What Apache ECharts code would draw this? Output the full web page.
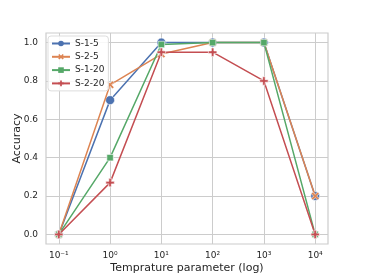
<!DOCTYPE html>
<html>
<head>
<meta charset="utf-8">
<script src="https://cdn.jsdelivr.net/npm/echarts@6/dist/echarts.min.js"></script>
<style>html,body{margin:0;padding:0;background:#fff;}#c{width:365px;height:274px;}</style>
</head>
<body>
<div id="c"></div>
<script>
const temperatures = [0.1, 1, 10, 100, 1000, 10000];
const s15 = [0, 0.70, 1.00, 1.00, 1.00, 0.20];
const s25 = [0, 0.78, 0.94, 1.00, 1.00, 0.20];
const s120 = [0, 0.40, 0.99, 1.00, 1.00, 0.00];
const s220 = [0, 0.27, 0.95, 0.95, 0.80, 0.00];
const seriesNames = ['S-1-5', 'S-2-5', 'S-1-20', 'S-2-20'];
const xTickExps = [-1, 0, 1, 2, 3, 4];
const yTicks = [0, 0.2, 0.4, 0.6, 0.8, 1.0];

const colors = ['#4C72B0', '#DD8452', '#55A868', '#C44E52'];
const plusPath = 'path://M3.5,0H6.5V3.5H10V6.5H6.5V10H3.5V6.5H0V3.5H3.5Z';
const xPath = 'path://M2,0L5,3L8,0L10,2L7,5L10,8L8,10L5,7L2,10L0,8L3,5L0,2Z';
const symbols = ['circle', xPath, 'rect', plusPath];
const sizes = [9, 8, 6.5, 8.5];
const allData = [s15, s25, s120, s220];

const sup = {'-':'⁻','0':'⁰','1':'¹','2':'²','3':'³','4':'⁴','5':'⁵','6':'⁶','7':'⁷','8':'⁸','9':'⁹'};
function toSup(n){return String(n).split('').map(c=>sup[c]).join('');}

const chart = echarts.init(document.getElementById('c'), null, {renderer:'canvas'});
chart.setOption({
  backgroundColor: '#fff',
  animation: false,
  color: colors,
  grid: {left: 46, right: 37, top: 33, bottom: 30, containLabel: false, outerBoundsMode: 'none',
    show: true, borderColor: '#cccccc', borderWidth: 1.2, backgroundColor: '#fff'},
  legend: {
    left: 48, top: 36, orient: 'vertical',
    itemWidth: 18, itemHeight: 7, itemGap: 4.3,
    padding: [3, 4, 3, 3],
    borderColor: '#dddddd', borderWidth: 1, borderRadius: 3, backgroundColor: 'rgba(255,255,255,0.85)',
    textStyle: {fontSize: 9, color: '#262626', fontFamily: 'DejaVu Sans'},
    itemStyle: {borderWidth: 0},
    data: seriesNames
  },
  xAxis: {
    type: 'value', min: -1.25, max: 4.25,
    name: 'Temprature parameter (log)', nameLocation: 'middle', nameGap: 19, nameMoveOverlap: false,
    nameTextStyle: {fontSize: 11, color: '#262626', fontFamily: 'DejaVu Sans'},
    axisLine: {show: false}, axisTick: {show: false, customValues: xTickExps},
    axisLabel: {customValues: xTickExps, fontSize: 9, color: '#262626', fontFamily: 'DejaVu Sans', margin: 7,
      formatter: v => '10' + toSup(Math.round(v))},
    splitLine: {show: true, lineStyle: {color: '#cccccc', width: 1}}
  },
  yAxis: {
    type: 'value', min: -0.05, max: 1.05,
    name: 'Accuracy', nameLocation: 'middle', nameGap: 23, nameMoveOverlap: false,
    nameTextStyle: {fontSize: 11, color: '#262626', fontFamily: 'DejaVu Sans'},
    axisLine: {show: false}, axisTick: {show: false, customValues: yTicks},
    axisLabel: {customValues: yTicks, fontSize: 9, color: '#262626', fontFamily: 'DejaVu Sans', margin: 8,
      formatter: v => v.toFixed(1)},
    splitLine: {show: true, lineStyle: {color: '#cccccc', width: 1}}
  },
  series: seriesNames.map((name, i) => ({
    name: name, type: 'line',
    data: temperatures.map((t, j) => [Math.log10(t), allData[i][j]]),
    symbol: symbols[i], symbolSize: sizes[i], showAllSymbol: true,
    lineStyle: {width: 1.5, color: colors[i]},
    itemStyle: {color: colors[i], borderColor: '#fff', borderWidth: 0.6},
    z: 2 + i
  }))
});
</script>
</body>
</html>
